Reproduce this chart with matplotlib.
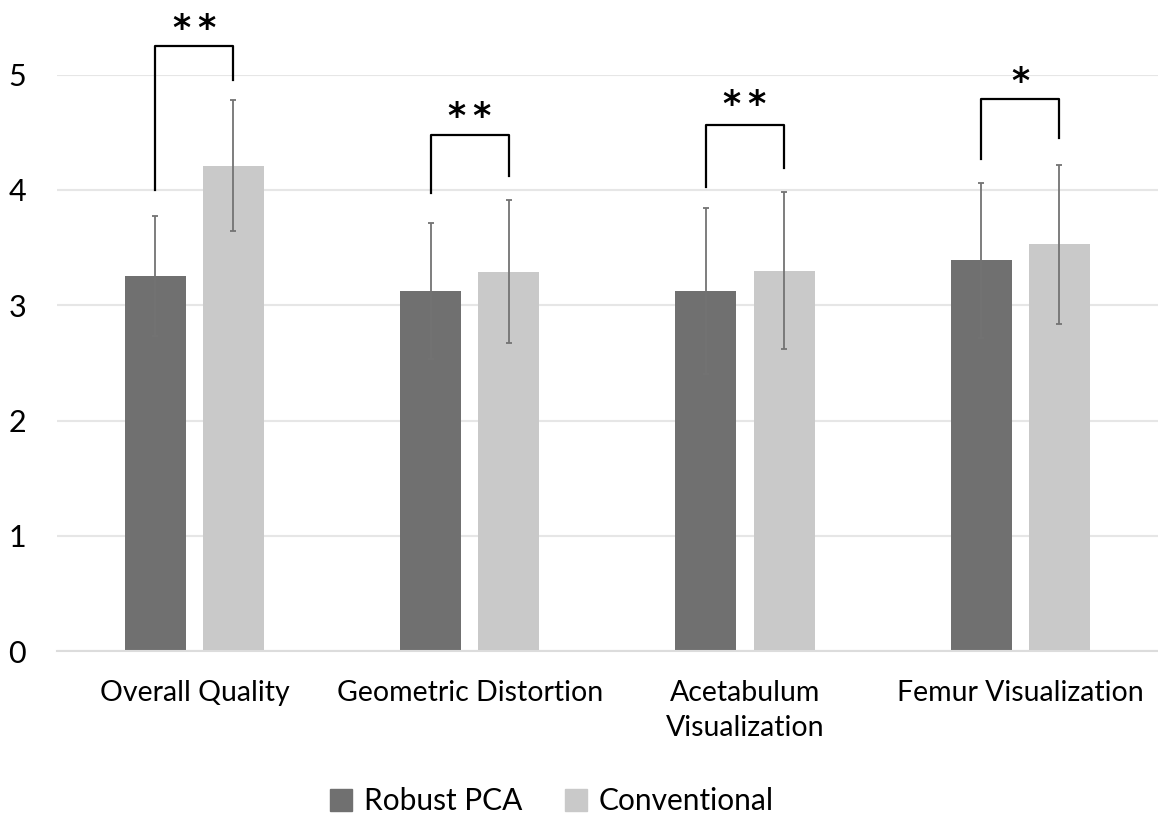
import numpy as np
import matplotlib
matplotlib.use("Agg")
import matplotlib.pyplot as plt
from matplotlib.patches import Patch

# =====================================
# Data
# =====================================

categories = ["Overall Quality", "Geometric Distortion",
              "Acetabulum\nVisualization", "Femur Visualization"]

robust_mean = [3.25, 3.12, 3.12, 3.39]
robust_sd = [0.52, 0.59, 0.72, 0.67]

conv_mean = [4.21, 3.29, 3.30, 3.53]
conv_sd = [0.57, 0.62, 0.68, 0.69]

# significance brackets: left leg bottom, right leg bottom, bracket top, star height
bracket_left = [4.00, 3.97, 4.03, 4.27]
bracket_right = [4.95, 4.12, 4.19, 4.45]
bracket_top = [5.25, 4.48, 4.56, 4.79]
star_y = [5.40, 4.63, 4.74, 4.94]
stars = ["**", "**", "**", "*"]

series_names = ["Robust PCA", "Conventional"]

# =====================================
# Style
# =====================================

plt.rcParams["font.family"] = ["Lato", "DejaVu Sans"]

dark = "#707070"
light = "#c9c9c9"
err_color = "#737373"

fig = plt.figure(figsize=(11.58, 8.21), dpi=100)
ax = fig.add_axes([0.049, 0.207, 0.951, 0.702])

x = np.arange(len(categories))
width = 0.222
offset = 0.142

ax.bar(x - offset, robust_mean, width, color=dark, zorder=2)
ax.bar(x + offset, conv_mean, width, color=light, zorder=2)

ax.errorbar(x - offset, robust_mean, yerr=robust_sd, fmt="none",
            ecolor=err_color, elinewidth=1.3, capsize=2, capthick=1.3, zorder=3)
ax.errorbar(x + offset, conv_mean, yerr=conv_sd, fmt="none",
            ecolor=err_color, elinewidth=1.3, capsize=2, capthick=1.3, zorder=3)

# brackets
for i in range(len(categories)):
    xl = x[i] - offset
    xr = x[i] + offset
    ax.plot([xl, xl, xr, xr],
            [bracket_left[i], bracket_top[i], bracket_top[i], bracket_right[i]],
            color="black", lw=1.6, clip_on=False, zorder=4)
    ax.text(x[i], star_y[i], "\u2009".join(stars[i]), ha="center", va="center",
            fontsize=25, fontweight="bold", family="DejaVu Sans", clip_on=False)

ax.set_xlim(-0.5, 3.5)
ax.set_ylim(0, 5)
ax.set_yticks([0, 1, 2, 3, 4, 5])
ax.set_xticks(x)
ax.set_xticklabels(categories, fontsize=20.5, linespacing=1.4)
ax.tick_params(axis="y", labelsize=22, length=0, pad=22)
ax.tick_params(axis="x", length=0, pad=21)

ax.grid(axis="y", color="#e6e6e6", lw=1.5, zorder=0)
ax.set_axisbelow(True)
for side in ["top", "right", "left"]:
    ax.spines[side].set_visible(False)
ax.spines["bottom"].set_color("#dcdcdc")
ax.spines["bottom"].set_linewidth(1.5)

handles = [Patch(color=dark), Patch(color=light)]
fig.legend(handles, series_names, loc="center",
           bbox_to_anchor=(552 / 1158, 1 - 801 / 821),
           ncol=2, frameon=False, fontsize=21.5,
           handlelength=0.75, handleheight=0.75, handletextpad=0.4,
           columnspacing=1.4)

fig.savefig("out.png", dpi=100)
